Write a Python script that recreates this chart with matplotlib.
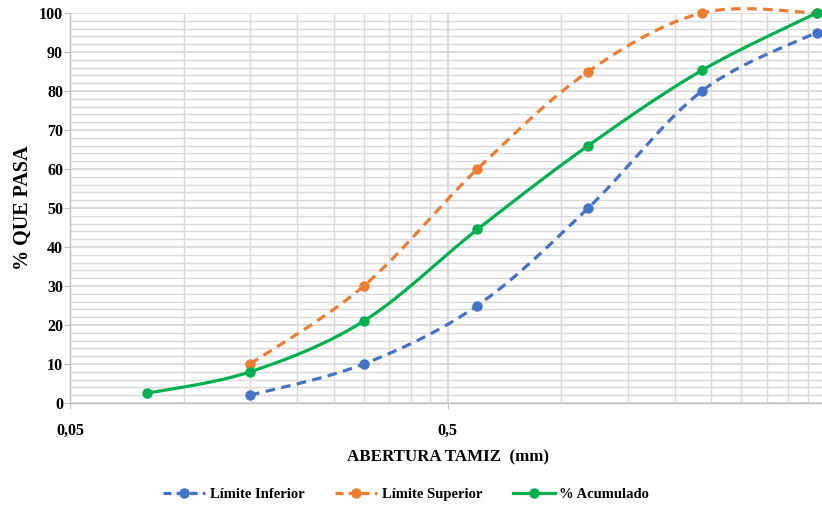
import numpy as np
import matplotlib
matplotlib.use("Agg")
import matplotlib.pyplot as plt
from matplotlib.ticker import FixedLocator, NullFormatter, FixedFormatter

# Sieve openings (mm) and percent passing
sizes_lim = [0.15, 0.3, 0.6, 1.18, 2.36, 4.75]
lim_inf = [2, 10, 25, 50, 80, 95]
lim_sup = [10, 30, 60, 85, 100, 100]
sizes_acum = [0.08, 0.15, 0.3, 0.6, 1.18, 2.36, 4.75]
acum = [2.5, 8, 21, 44.5, 66, 85.3, 100]

series_labels = ["Límite Inferior", "Límite Superior", "% Acumulado"]
x_tick_vals = [0.05, 0.5]
x_tick_labels = ["0,05", "0,5"]

C_BLUE = "#4472C4"
C_ORANGE = "#ED7D31"
C_GREEN = "#00B050"
GRID = "#D9D9D9"

plt.rcParams["font.family"] = ["Liberation Serif", "DejaVu Serif"]
plt.rcParams["font.weight"] = "bold"


def smooth(xs, ys, n=40):
    """Catmull-Rom style Bezier smoothing in log10(x)-y space."""
    u = np.log10(np.asarray(xs, float))
    v = np.asarray(ys, float)
    P = np.column_stack([u, v])
    pts = []
    m = len(P)
    for i in range(m - 1):
        p0 = P[i - 1] if i > 0 else P[i]
        p1 = P[i]
        p2 = P[i + 1]
        p3 = P[i + 2] if i + 2 < m else P[i + 1]
        b1 = p1 + (p2 - p0) / 6.0
        b2 = p2 - (p3 - p1) / 6.0
        t = np.linspace(0, 1, n)[:, None]
        seg = ((1 - t) ** 3) * p1 + 3 * ((1 - t) ** 2) * t * b1 + 3 * (1 - t) * t ** 2 * b2 + t ** 3 * p2
        if i > 0:
            seg = seg[1:]
        pts.append(seg)
    pts = np.vstack(pts)
    return 10 ** pts[:, 0], pts[:, 1]


fig = plt.figure(figsize=(8.22, 5.08), dpi=100)
W, H = 822, 508
left, right, top, bottom = 70, 825, 13, 403
ax = fig.add_axes([left / W, 1 - bottom / H, (right - left) / W, (bottom - top) / H])
ax.set_xscale("log")
ax.set_xlim(0.05, 5)
ax.set_ylim(0, 100)

# Grid
ax.xaxis.set_major_locator(FixedLocator(x_tick_vals))
ax.xaxis.set_major_formatter(FixedFormatter(x_tick_labels))
minor_x = [0.05 * k for k in range(2, 10)] + [0.5 * k for k in range(2, 10)]
ax.xaxis.set_minor_locator(FixedLocator(minor_x))
ax.xaxis.set_minor_formatter(NullFormatter())
ax.set_yticks(np.arange(0, 101, 10))
ax.set_yticks(np.arange(0, 101, 2), minor=True)
ax.grid(which="major", color=GRID, lw=1.3, zorder=0)
ax.grid(which="minor", color=GRID, lw=1.0, zorder=0)
ax.set_axisbelow(True)

for s in ["top", "right"]:
    ax.spines[s].set_visible(False)
for s in ["left", "bottom"]:
    ax.spines[s].set_color("#BFBFBF")
    ax.spines[s].set_linewidth(1.0)

ax.tick_params(axis="both", which="major", length=4, color="#BFBFBF", labelsize=11.5)
ax.tick_params(axis="x", which="minor", length=0)
ax.tick_params(axis="y", which="minor", length=0)
ax.tick_params(axis="x", pad=10)
ax.tick_params(axis="y", pad=1)
for lbl in ax.get_xticklabels() + ax.get_yticklabels():
    lbl.set_fontweight("bold")

lw = 2.3
dash = (3, 2)

xs, ys = smooth(sizes_lim, lim_inf)
ax.plot(xs, ys, color=C_BLUE, lw=lw, dashes=dash, zorder=3)
ax.plot(sizes_lim, lim_inf, "o", color=C_BLUE, ms=6.5, zorder=4, clip_on=False)

xs, ys = smooth(sizes_lim, lim_sup)
ax.plot(xs, ys, color=C_ORANGE, lw=lw, dashes=dash, zorder=3, clip_on=False)
ax.plot(sizes_lim, lim_sup, "o", color=C_ORANGE, ms=6.5, zorder=4, clip_on=False)

xs, ys = smooth(sizes_acum, acum)
ax.plot(xs, ys, color=C_GREEN, lw=lw, zorder=3, clip_on=False)
ax.plot(sizes_acum, acum, "o", color=C_GREEN, ms=6.5, zorder=4, clip_on=False)

ax.set_xlabel("ABERTURA TAMIZ  (mm)", fontsize=12.2, fontweight="bold", labelpad=8)
ax.set_ylabel("% QUE PASA", fontsize=14.5, fontweight="bold", labelpad=4)

# Legend
h1, = ax.plot([], [], color=C_BLUE, lw=lw, dashes=(2.5, 1.6), marker="o", ms=6.5)
h2, = ax.plot([], [], color=C_ORANGE, lw=lw, dashes=(2.5, 1.6), marker="o", ms=6.5)
h3, = ax.plot([], [], color=C_GREEN, lw=lw, marker="o", ms=6.5)
fig.legend([h1, h2, h3], series_labels, loc="center", bbox_to_anchor=(406 / W, 1 - 494 / H),
           ncol=3, frameon=False, handlelength=2.9, columnspacing=2.1, handletextpad=0.3,
           prop={"family": ["Liberation Serif"], "weight": "bold", "size": 10.5})

fig.savefig("out.png", dpi=100)
